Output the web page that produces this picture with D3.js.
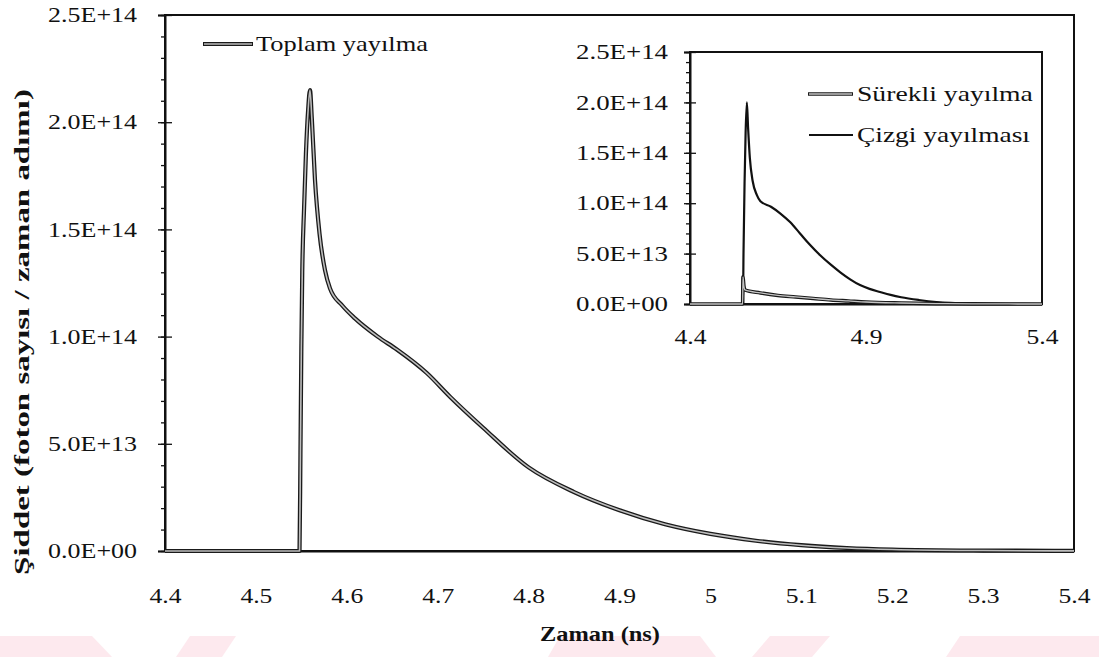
<!DOCTYPE html>
<html>
<head>
<meta charset="utf-8">
<script src="https://cdn.jsdelivr.net/npm/d3@7"></script>
<style>
  body { margin: 0; background: #fff; }
  text { font-family: "Liberation Serif", "Times New Roman", Tinos, "Nimbus Roman", Times, serif; fill: #111; }
</style>
</head>
<body>
<svg id="chart" width="1099" height="657"></svg>
<script>
// ---- Total emission (main panel) ----
const totalTime = [4.40, 4.548, 4.549, 4.550, 4.551, 4.553, 4.555, 4.5575, 4.5595, 4.5615,
  4.565, 4.570, 4.576, 4.5815, 4.595, 4.609, 4.634, 4.655, 4.688, 4.7135,
  4.75, 4.80, 4.85, 4.90, 4.95, 5.00, 5.05, 5.10, 5.15, 5.20, 5.30, 5.40];
const totalValue = [0, 0, 0.45e14, 0.95e14, 1.30e14, 1.60e14, 1.85e14, 2.06e14, 2.15e14, 2.02e14,
  1.73e14, 1.48e14, 1.31e14, 1.225e14, 1.145e14, 1.085e14, 1.00e14, 0.94e14, 0.83e14, 0.72e14,
  0.575e14, 0.39e14, 0.275e14, 0.19e14, 0.125e14, 0.08e14, 0.048e14, 0.027e14, 0.014e14, 0.007e14, 0.002e14, 0.0005e14];

// ---- Continuum emission (inset) ----
const contTime = [4.40, 4.5495, 4.5505, 4.553, 4.556, 4.60, 4.65, 4.70, 4.75, 4.80, 4.85, 4.90, 5.00, 5.10, 5.20, 5.40];
const contValue = [0, 0, 0.27e14, 0.18e14, 0.14e14, 0.11e14, 0.085e14, 0.07e14, 0.055e14, 0.04e14, 0.03e14, 0.02e14, 0.01e14, 0.004e14, 0.001e14, 0];

// ---- Line emission (inset) ----
const lineTime = [4.40, 4.5505, 4.552, 4.555, 4.558, 4.5615, 4.565, 4.570, 4.578, 4.590, 4.600,
  4.630, 4.656, 4.685, 4.7125, 4.740, 4.769, 4.800, 4.826, 4.855, 4.883, 4.910, 4.940, 4.970,
  5.00, 5.05, 5.10, 5.20, 5.30, 5.40];
const lineValue = [0, 0, 0.5e14, 1.2e14, 1.7e14, 2.0e14, 1.75e14, 1.45e14, 1.22e14, 1.08e14, 1.02e14,
  0.965e14, 0.90e14, 0.81e14, 0.70e14, 0.59e14, 0.486e14, 0.39e14, 0.317e14, 0.245e14, 0.188e14, 0.15e14, 0.119e14, 0.09e14,
  0.067e14, 0.04e14, 0.02e14, 0.005e14, 0.001e14, 0];

// ---- Tick values and labels ----
const yTicks = [0, 0.5e14, 1.0e14, 1.5e14, 2.0e14, 2.5e14];
const yTickLabels = ["0.0E+00", "5.0E+13", "1.0E+14", "1.5E+14", "2.0E+14", "2.5E+14"];
const yMinorTicks = d3.range(0, 26).map(i => i * 1e13);
const xTicks = [4.4, 4.5, 4.6, 4.7, 4.8, 4.9, 5.0, 5.1, 5.2, 5.3, 5.4];
const xTickLabels = ["4.4", "4.5", "4.6", "4.7", "4.8", "4.9", "5", "5.1", "5.2", "5.3", "5.4"];
const insetXTicks = [4.4, 4.9, 5.4];
const insetXTickLabels = ["4.4", "4.9", "5.4"];

const legendMain = ["Toplam yayılma"];
const legendInset = ["Sürekli yayılma", "Çizgi yayılması"];

const svg = d3.select("#chart");

// faint pink band along the bottom edge
const bandShapes = [
  [[0, 636], [92, 636], [112, 657], [0, 657]],
  [[190, 636], [236, 636], [222, 657], [176, 657]],
  [[560, 636], [700, 636], [716, 657], [548, 657]],
  [[770, 636], [830, 636], [812, 657], [752, 657]],
  [[960, 636], [1099, 636], [1099, 657], [946, 657]]
];
svg.append("g").selectAll("polygon").data(bandShapes).join("polygon")
  .attr("points", d => d.map(p => p.join(",")).join(" "))
  .attr("fill", "#fde9ee");

// stretch a text element horizontally (about its anchor point) to a target width
function fitWidth(node, target, extra) {
  const t = d3.select(node);
  const n = node.getComputedTextLength();
  if (!n) return;
  const k = target / n;
  const ax = +t.attr("x") || 0;
  t.attr("transform", `${extra || ""} translate(${ax},0) scale(${k},1) translate(${-ax},0)`);
}
function fitAll(sel, widthOf) {
  sel.each(function () { fitWidth(this, widthOf(d3.select(this).text())); });
}

function drawPanel(opts) {
  const { x0, x1, y0, y1, fontSize, yPad, yTickSize, xPad, xTickVals, xTickLabs, yLabelW } = opts;
  const x = d3.scaleLinear().domain([4.4, 5.4]).range([x0, x1]);
  const y = d3.scaleLinear().domain([0, 2.5e14]).range([y1, y0]);
  const g = svg.append("g");

  // frame
  g.append("rect").attr("x", x0).attr("y", y0).attr("width", x1 - x0).attr("height", y1 - y0)
    .attr("fill", "#fff").attr("stroke", "#111").attr("stroke-width", 2);

  // minor y ticks
  g.append("g").attr("transform", `translate(${x0},0)`)
    .call(d3.axisLeft(y).tickValues(yMinorTicks).tickSize(4).tickFormat(""))
    .call(a => a.select(".domain").remove())
    .call(a => a.selectAll(".tick line").attr("stroke", "#111").attr("stroke-width", 1.3));

  // major y ticks and labels
  g.append("g").attr("transform", `translate(${x0},0)`)
    .call(d3.axisLeft(y).tickValues(yTicks).tickSize(yTickSize).tickPadding(yPad)
      .tickFormat((d, i) => yTickLabels[i]))
    .call(a => a.select(".domain").attr("stroke", "#111").attr("stroke-width", 2))
    .call(a => a.selectAll(".tick line").attr("x1", yTickSize).attr("stroke", "#111").attr("stroke-width", 1.3))
    .call(a => a.selectAll(".tick text").attr("font-size", fontSize).attr("fill", "#111")
      .call(fitAll, () => yLabelW));

  // x axis labels
  g.append("g").attr("transform", `translate(0,${y1})`)
    .call(d3.axisBottom(x).tickValues(xTickVals).tickSize(0).tickPadding(xPad)
      .tickFormat((d, i) => xTickLabs[i]))
    .call(a => a.select(".domain").attr("stroke", "#111").attr("stroke-width", 2))
    .call(a => a.selectAll(".tick text").attr("font-size", fontSize).attr("fill", "#111")
      .call(fitAll, s => s.length === 1 ? 12 : 32));

  return { x, y, g };
}

// ---- main panel ----
const main = drawPanel({
  x0: 165, x1: 1074, y0: 15, y1: 551, fontSize: 21, yPad: 21, yTickSize: 7,
  xPad: 37, xTickVals: xTicks, xTickLabs: xTickLabels, yLabelW: 89
});

const mainLine = d3.line().x(d => main.x(d[0])).y(d => main.y(d[1])).curve(d3.curveMonotoneX);
const totalData = totalTime.map((t, i) => [t, totalValue[i]]);
main.g.append("path").datum(totalData).attr("d", mainLine)
  .attr("fill", "none").attr("stroke", "#1a1a1a").attr("stroke-width", 4.2).attr("stroke-linejoin", "round");
main.g.append("path").datum(totalData).attr("d", mainLine)
  .attr("fill", "none").attr("stroke", "#bdbdbd").attr("stroke-width", 1.6).attr("stroke-linejoin", "round");

// main legend
const lgMain = main.g.append("g");
lgMain.append("line").attr("x1", 203).attr("x2", 253).attr("y1", 44).attr("y2", 44)
  .attr("stroke", "#1a1a1a").attr("stroke-width", 4.2);
lgMain.append("line").attr("x1", 204).attr("x2", 252).attr("y1", 44).attr("y2", 44)
  .attr("stroke", "#bdbdbd").attr("stroke-width", 1.6);
lgMain.append("text").attr("x", 256).attr("y", 51).attr("font-size", 22)
  .text(legendMain[0]).each(function () { fitWidth(this, 172); });

// ---- inset panel ----
const inset = drawPanel({
  x0: 690, x1: 1042, y0: 52, y1: 304, fontSize: 21, yPad: 16, yTickSize: 6,
  xPad: 25, xTickVals: insetXTicks, xTickLabs: insetXTickLabels, yLabelW: 92
});

const insetLine = d3.line().x(d => inset.x(d[0])).y(d => inset.y(d[1])).curve(d3.curveMonotoneX);
const contData = contTime.map((t, i) => [t, contValue[i]]);
const lineData = lineTime.map((t, i) => [t, lineValue[i]]);
inset.g.append("path").datum(lineData).attr("d", insetLine)
  .attr("fill", "none").attr("stroke", "#111").attr("stroke-width", 2.2).attr("stroke-linejoin", "round");
inset.g.append("path").datum(contData).attr("d", insetLine)
  .attr("fill", "none").attr("stroke", "#1a1a1a").attr("stroke-width", 3.6).attr("stroke-linejoin", "round");
inset.g.append("path").datum(contData).attr("d", insetLine)
  .attr("fill", "none").attr("stroke", "#c4c4c4").attr("stroke-width", 1.3).attr("stroke-linejoin", "round");

// inset legend
const lgIn = inset.g.append("g");
lgIn.append("line").attr("x1", 808).attr("x2", 853).attr("y1", 94).attr("y2", 94)
  .attr("stroke", "#1a1a1a").attr("stroke-width", 3.6);
lgIn.append("line").attr("x1", 809).attr("x2", 852).attr("y1", 94).attr("y2", 94)
  .attr("stroke", "#c4c4c4").attr("stroke-width", 1.3);
lgIn.append("text").attr("x", 857).attr("y", 101).attr("font-size", 22)
  .text(legendInset[0]).each(function () { fitWidth(this, 176); });
lgIn.append("line").attr("x1", 809).attr("x2", 853).attr("y1", 135).attr("y2", 135)
  .attr("stroke", "#111").attr("stroke-width", 2.2);
lgIn.append("text").attr("x", 857).attr("y", 142).attr("font-size", 22)
  .text(legendInset[1]).each(function () { fitWidth(this, 173); });

// ---- axis titles ----
svg.append("text").attr("x", 600).attr("y", 641).attr("text-anchor", "middle")
  .attr("font-size", 21).attr("font-weight", "bold")
  .text("Zaman (ns)").each(function () { fitWidth(this, 120); });
svg.append("text").attr("x", 0).attr("y", 0).attr("text-anchor", "middle")
  .attr("font-size", 22).attr("font-weight", "bold")
  .text("Şiddet (foton sayısı / zaman adımı)")
  .each(function () { fitWidth(this, 486, "translate(29,332) rotate(-90)"); });
</script>
</body>
</html>
